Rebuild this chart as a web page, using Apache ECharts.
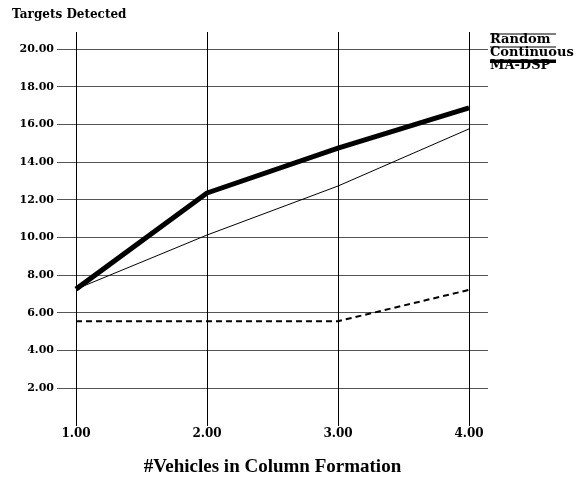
<!DOCTYPE html>
<html>
<head>
<meta charset="utf-8">
<style>
  html, body { margin: 0; padding: 0; background: #fff; }
  #chart { width: 586px; height: 477px; }
</style>
<script src="https://cdn.jsdelivr.net/npm/echarts@6/dist/echarts.min.js"></script>
</head>
<body>
<div id="chart"></div>
<script>
// values
const vehicles = [1, 2, 3, 4]
const randomVals = [5.56, 5.56, 5.56, 7.22]
const continuousVals = [7.26, 10.13, 12.73, 15.76]
const maDspVals = [7.26, 12.36, 14.74, 16.87]
const seriesNames = ['Random', 'Continuous', 'MA-DSP']

const font = 'DejaVu Serif'
const bigFont = 'Liberation Serif'
const pair = (xs, ys) => xs.map((x, i) => [x, ys[i]])

// legend samples are bars drawn over the top of the text
const overline = h => 'path://M0,0H0.01V0.01H0Z M0,2.5H66V' + (2.5 + h) + 'H0Z M0,16.99H0.01V17H0Z'

const chart = echarts.init(document.getElementById('chart'))

chart.setOption({
  animation: false,
  backgroundColor: '#fff',
  textStyle: { fontFamily: font, fontWeight: 'bold', color: '#000' },
  title: {
    text: 'Targets Detected',
    left: 12, top: 9, padding: 0,
    textStyle: { fontFamily: font, fontWeight: 'bold', fontSize: 12, color: '#000' }
  },
  legend: {
    data: [
      { name: seriesNames[0], icon: overline(1) },
      { name: seriesNames[1], icon: overline(1) },
      { name: seriesNames[2], icon: overline(3.5) }
    ],
    orient: 'vertical',
    left: 490, top: 31, padding: 0,
    itemGap: -4,
    itemWidth: 66, itemHeight: 17,
    textStyle: {
      fontFamily: font, fontWeight: 'bold', fontSize: 13, lineHeight: 13, color: '#000',
      padding: [0, 0, 0, -71]
    }
  },
  grid: [
    // vertical lines + data
    { left: 76, top: 32, width: 393, height: 394, outerBoundsMode: 'none' },
    // horizontal lines + y labels
    { left: 57, top: 49, width: 431, height: 339, outerBoundsMode: 'none' }
  ],
  xAxis: [
    {
      type: 'value', gridIndex: 0, min: 1, max: 4, interval: 1,
      axisLine: { show: false }, axisTick: { show: false },
      splitLine: { show: true, lineStyle: { color: '#000', width: 1 } },
      axisLabel: {
        margin: 2, fontSize: 12, fontFamily: font, fontWeight: 'bold', color: '#000',
        formatter: v => v.toFixed(2)
      },
      name: '#Vehicles in Column Formation',
      nameLocation: 'middle', nameGap: 32,
      nameTextStyle: { fontFamily: bigFont, fontWeight: 'bold', fontSize: 19, color: '#000' }
    },
    { type: 'value', gridIndex: 1, min: 0, max: 1, show: false }
  ],
  yAxis: [
    { type: 'value', gridIndex: 0, min: 0, max: 20.9, show: false },
    {
      type: 'value', gridIndex: 1, min: 2, max: 20, interval: 2,
      axisLine: { show: false }, axisTick: { show: false },
      splitLine: { show: true, lineStyle: { color: '#555', width: 1 } },
      axisLabel: {
        margin: 3, fontSize: 11, fontFamily: font, fontWeight: 'bold', color: '#000',
        formatter: v => v.toFixed(2)
      }
    }
  ],
  series: [
    {
      name: seriesNames[0], type: 'line', xAxisIndex: 0, yAxisIndex: 0,
      data: pair(vehicles, randomVals), symbol: 'none', z: 5,
      itemStyle: { color: '#000' },
      lineStyle: { color: '#000', width: 2, type: [6, 4] }
    },
    {
      name: seriesNames[1], type: 'line', xAxisIndex: 0, yAxisIndex: 0,
      data: pair(vehicles, continuousVals), symbol: 'none', z: 5,
      itemStyle: { color: '#000' },
      lineStyle: { color: '#000', width: 1 }
    },
    {
      name: seriesNames[2], type: 'line', xAxisIndex: 0, yAxisIndex: 0,
      data: pair(vehicles, maDspVals), symbol: 'none', z: 6,
      itemStyle: { color: '#000' },
      lineStyle: { color: '#000', width: 5 }
    }
  ]
})
</script>
</body>
</html>
